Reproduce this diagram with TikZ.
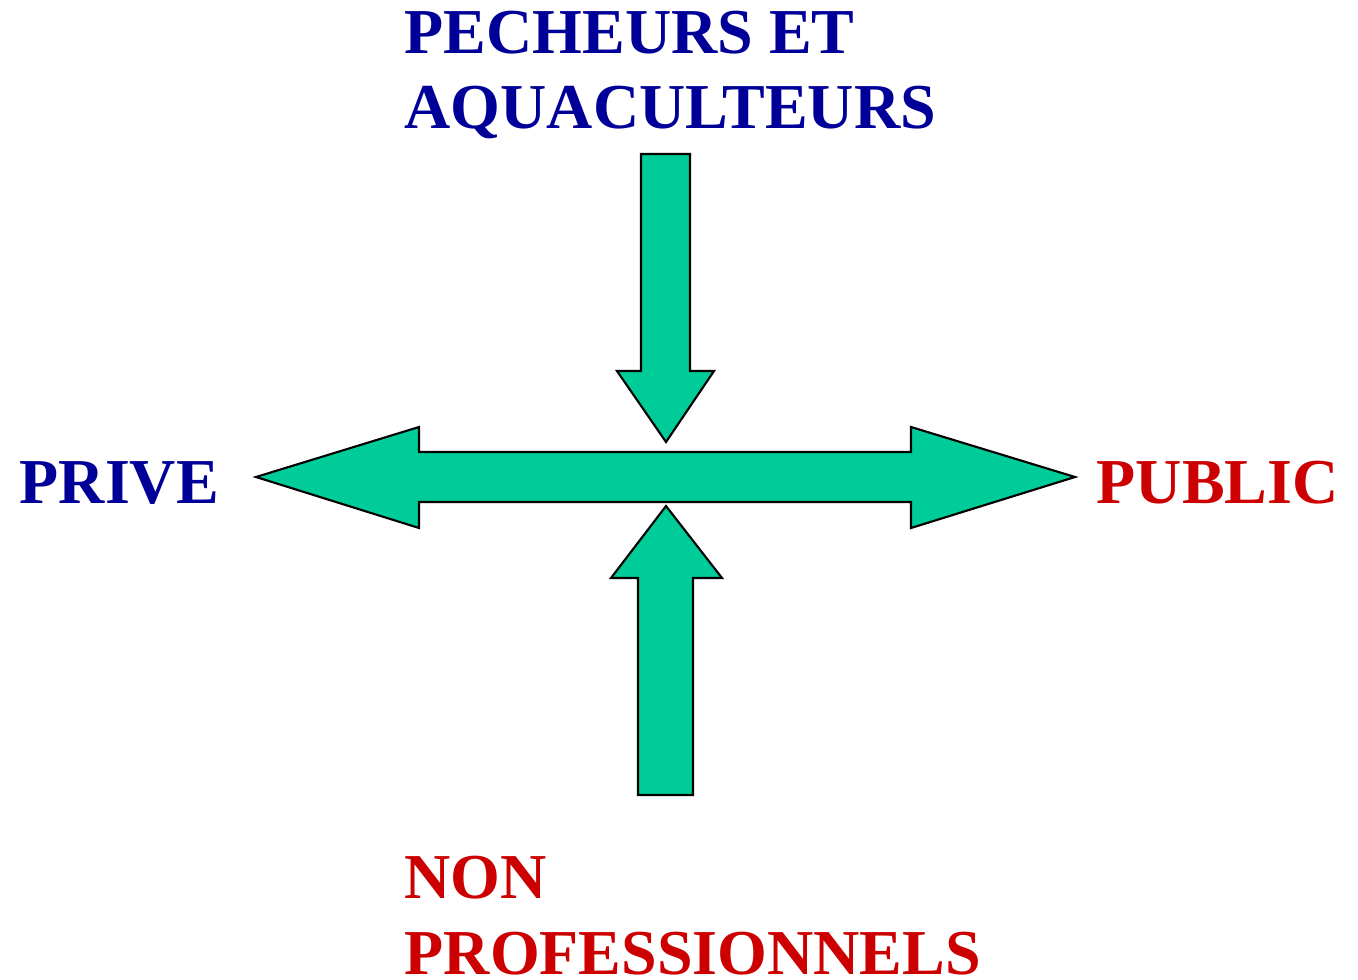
\documentclass[tikz,border=0pt]{standalone}
\usepackage{fontspec}
\setmainfont{Liberation Serif}

\definecolor{labelblue}{RGB}{0,0,153}
\definecolor{labelred}{RGB}{204,0,0}
\definecolor{arrowgreen}{RGB}{0,204,153}

\begin{document}
\begin{tikzpicture}
  [x=0.01cm,y=-0.01cm,
   every node/.style={inner sep=0pt,anchor=base west,align=left,
     font=\fontsize{18.2}{21.6}\selectfont\bfseries},
   blockarrow/.style={fill=arrowgreen,draw=black,line width=0.6pt,line join=miter}]
  \useasboundingbox (0,0) rectangle (1358,979);

  % block arrows
  \draw[blockarrow] (641,154) -- (690,154) -- (690,371) -- (714,371)
    -- (666,442) -- (617,371) -- (641,371) -- cycle;
  \draw[blockarrow] (256,477) -- (419,427) -- (419,452) -- (911,452)
    -- (911,427) -- (1075,477) -- (911,528) -- (911,502) -- (419,502)
    -- (419,528) -- cycle;
  \draw[blockarrow] (666,506) -- (722,578) -- (693,578) -- (693,795)
    -- (638,795) -- (638,578) -- (611,578) -- cycle;

  % labels (base anchor = last line)
  \node[text=labelblue] (pecheurs) at (404,129) {PECHEURS ET\\AQUACULTEURS};
  \node[text=labelblue] (prive)    at (19,503)  {PRIVE};
  \node[text=labelred]  (public)   at (1096,503) {PUBLIC};
  \node[text=labelred]  (nonpro)   at (404,974) {NON\\PROFESSIONNELS};
\end{tikzpicture}
\end{document}
